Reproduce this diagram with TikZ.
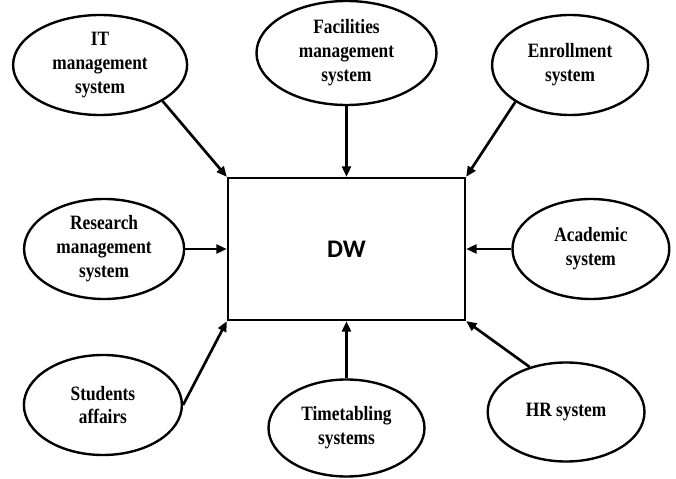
\documentclass[tikz,border=0pt]{standalone}
\usepackage{fontspec}
\setmainfont{Liberation Serif}[FakeStretch=0.85]
\newfontfamily\dwfont{Carlito}
\usepackage{tikz}
\usetikzlibrary{positioning, arrows.meta, shapes.geometric}

\begin{document}
\begin{tikzpicture}[on grid,
        every node/.style={font=\bfseries\fontsize{14.5}{17}\selectfont},
        src/.style={ellipse, draw, line width=1.7pt, inner sep=0pt,
          minimum width=3.92cm, minimum height=2.5cm, align=center},
        dwbox/.style={rectangle, draw, line width=1.6pt,
          minimum width=5.925cm, minimum height=3.55cm},
        arr/.style={-{Triangle[length=2.6mm, width=2.2mm]}, line width=1.9pt}]

      \useasboundingbox (-8.6625,-5.75) rectangle (8.2375,6.225);

      \node[dwbox, font=\dwfont\bfseries\fontsize{18}{20}\selectfont] (DW) {DW};

      % top row
      \node[src, minimum width=4.35cm, above left=4.6cm and 6.16cm of DW]
        (IT) {IT\\management\\system};
      \node[src, minimum width=4.5cm, minimum height=2.6cm, above=4.9cm of DW]
        (Fac) {Facilities\\management\\system};
      \node[src, minimum width=3.9cm, above right=4.6cm and 5.59cm of DW]
        (Enr) {Enrollment\\system};

      % middle row
      \node[src, minimum width=4.0cm, left=6.06cm of DW]
        (Res) {Research\\management\\system};
      \node[src, right=6.11cm of DW] (Aca) {Academic\\system};

      % bottom row
      \node[src, minimum width=3.95cm, below left=3.9cm and 6.09cm of DW]
        (Stu) {Students\\affairs};
      \node[src, minimum width=3.9cm, minimum height=2.425cm, below=4.475cm of DW]
        (Tim) {Timetabling\\systems};
      \node[src, minimum height=2.475cm, below right=4.075cm and 5.49cm of DW]
        (HR) {HR system};

      \draw[arr] (IT.330) -- (DW.north west);
      \draw[arr] (Fac.south) -- (DW.north);
      \draw[arr] (Enr.214) -- (DW.north east);
      \draw[arr] (Res.east) -- (DW.west);
      \draw[arr] (Aca.west) -- (DW.east);
      \draw[arr] (Stu.east) -- (DW.south west);
      \draw[arr] (Tim.north) -- (DW.south);
      \draw[arr] (HR.129) -- (DW.south east);
    \end{tikzpicture}
\end{document}
